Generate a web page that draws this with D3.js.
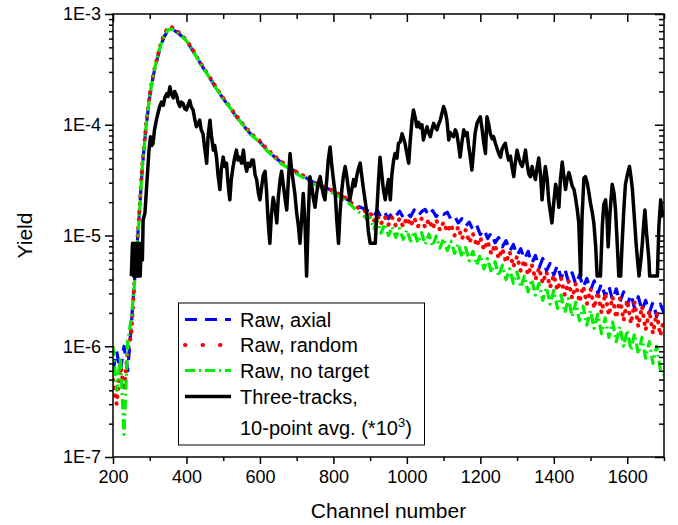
<!DOCTYPE html>
<html>
<head>
<meta charset="utf-8">
<script src="https://cdn.jsdelivr.net/npm/d3@7"></script>
<style>
  body { margin: 0; background: #fff; }
  svg { display: block; font-family: "Liberation Sans", Arial, sans-serif; }
</style>
</head>
<body>
<div id="chart"></div>
<script>
// channel grid of the raw spectra
var channels = [
  200,210,220,230,240,250,260,270,280,290,
  300,310,320,330,340,350,360,370,380,390,
  400,410,420,430,440,450,460,470,480,490,
  500,510,520,530,540,550,560,570,580,590,
  600,610,620,630,640,650,660,670,680,690,
  700,710,720,730,740,750,760,770,780,790,
  800,810,820,830,840,850,860,870,880,890,
  900,910,920,930,940,950,960,970,980,990,
  1000,1010,1020,1030,1040,1050,1060,1070,1080,1090,
  1100,1110,1120,1130,1140,1150,1160,1170,1180,1190,
  1200,1210,1220,1230,1240,1250,1260,1270,1280,1290,
  1300,1310,1320,1330,1340,1350,1360,1370,1380,1390,
  1400,1410,1420,1430,1440,1450,1460,1470,1480,1490,
  1500,1510,1520,1530,1540,1550,1560,1570,1580,1590,
  1600,1610,1620,1630,1640,1650,1660,1670,1680,1690,
  1700
];

var axial = [
  6e-7,9e-7,6e-7,1.0e-6,6e-7,1.6e-6,4.5e-6,1.3e-5,4.2e-5,9.5e-5,
  1.8e-4,2.8e-4,3.9e-4,5.2e-4,6.3e-4,7.1e-4,7.3e-4,7.0e-4,6.6e-4,6.2e-4,
  5.7e-4,5.1e-4,4.5e-4,3.95e-4,3.5e-4,3.1e-4,2.75e-4,2.45e-4,2.15e-4,1.92e-4,
  1.72e-4,1.55e-4,1.4e-4,1.26e-4,1.14e-4,1.03e-4,9.4e-5,8.6e-5,7.9e-5,7.4e-5,
  7.0e-5,6.4e-5,5.9e-5,5.5e-5,5.1e-5,4.8e-5,4.5e-5,4.3e-5,4.1e-5,3.9e-5,
  3.7e-5,3.55e-5,3.4e-5,3.25e-5,3.1e-5,2.98e-5,2.88e-5,2.78e-5,2.68e-5,2.6e-5,
  2.5e-5,2.4e-5,2.3e-5,2.2e-5,2.08e-5,1.98e-5,1.9e-5,1.82e-5,1.76e-5,1.7e-5,
  1.64e-5,1.5e-5,1.68e-5,1.45e-5,1.6e-5,1.42e-5,1.62e-5,1.5e-5,1.66e-5,1.46e-5,
  1.6e-5,1.48e-5,1.7e-5,1.5e-5,1.64e-5,1.72e-5,1.5e-5,1.68e-5,1.48e-5,1.66e-5,
  1.55e-5,1.62e-5,1.4e-5,1.5e-5,1.3e-5,1.42e-5,1.22e-5,1.32e-5,1.12e-5,1.24e-5,
  1.02e-5,1.14e-5,9.4e-6,1.06e-5,8.6e-6,9.6e-6,7.9e-6,9.0e-6,7.2e-6,8.3e-6,
  6.6e-6,7.6e-6,6.1e-6,7.2e-6,5.6e-6,6.6e-6,5.1e-6,6.2e-6,4.8e-6,5.6e-6,
  4.4e-6,5.4e-6,4.1e-6,5.0e-6,3.8e-6,4.6e-6,3.6e-6,4.4e-6,3.4e-6,4.1e-6,
  3.2e-6,3.9e-6,3.0e-6,3.7e-6,2.8e-6,3.5e-6,2.6e-6,3.3e-6,2.5e-6,3.1e-6,
  2.35e-6,2.95e-6,2.2e-6,2.8e-6,2.1e-6,2.6e-6,2.0e-6,2.5e-6,1.85e-6,2.4e-6,
  2.0e-6
];

var random = [
  5e-7,3e-7,7e-7,4e-7,9e-7,1.3e-6,4.8e-6,1.35e-5,4.5e-5,1.0e-4,
  1.9e-4,2.9e-4,4.0e-4,5.4e-4,6.6e-4,7.6e-4,7.6e-4,7.2e-4,6.8e-4,6.3e-4,
  5.8e-4,5.2e-4,4.6e-4,4.0e-4,3.55e-4,3.15e-4,2.8e-4,2.5e-4,2.2e-4,1.95e-4,
  1.75e-4,1.58e-4,1.42e-4,1.28e-4,1.16e-4,1.05e-4,9.6e-5,8.8e-5,8.1e-5,7.6e-5,
  7.1e-5,6.5e-5,6.0e-5,5.6e-5,5.2e-5,4.9e-5,4.6e-5,4.4e-5,4.15e-5,3.95e-5,
  3.75e-5,3.6e-5,3.45e-5,3.3e-5,3.15e-5,3.0e-5,2.9e-5,2.8e-5,2.7e-5,2.62e-5,
  2.52e-5,2.42e-5,2.32e-5,2.22e-5,2.1e-5,1.95e-5,1.85e-5,1.75e-5,1.72e-5,1.62e-5,
  1.62e-5,1.35e-5,1.52e-5,1.28e-5,1.48e-5,1.25e-5,1.45e-5,1.22e-5,1.42e-5,1.2e-5,
  1.45e-5,1.22e-5,1.44e-5,1.2e-5,1.42e-5,1.18e-5,1.4e-5,1.15e-5,1.38e-5,1.12e-5,
  1.32e-5,1.08e-5,1.26e-5,1.0e-5,1.2e-5,9.3e-6,1.12e-5,8.6e-6,1.04e-5,8.0e-6,
  9.6e-6,7.4e-6,8.9e-6,6.8e-6,8.3e-6,6.2e-6,7.6e-6,5.7e-6,7.1e-6,5.2e-6,
  6.5e-6,4.8e-6,6.0e-6,4.4e-6,5.5e-6,4.0e-6,5.1e-6,3.7e-6,4.7e-6,3.4e-6,
  4.4e-6,3.2e-6,4.1e-6,2.9e-6,3.9e-6,2.7e-6,3.7e-6,2.5e-6,3.5e-6,2.4e-6,
  3.3e-6,2.2e-6,3.1e-6,2.0e-6,3.0e-6,1.9e-6,2.8e-6,1.8e-6,2.7e-6,1.7e-6,
  2.6e-6,1.6e-6,2.5e-6,1.5e-6,2.3e-6,1.4e-6,2.1e-6,1.3e-6,2.0e-6,1.25e-6,
  1.8e-6
];

var noTarget = [
  1.0e-6,4e-7,8e-7,1.6e-7,1.1e-6,1.8e-6,4.2e-6,1.25e-5,4.3e-5,9.6e-5,
  1.85e-4,2.85e-4,3.95e-4,5.3e-4,6.4e-4,7.2e-4,7.3e-4,7.0e-4,6.6e-4,6.2e-4,
  5.7e-4,5.1e-4,4.5e-4,3.95e-4,3.5e-4,3.1e-4,2.75e-4,2.45e-4,2.15e-4,1.92e-4,
  1.72e-4,1.55e-4,1.4e-4,1.26e-4,1.14e-4,1.03e-4,9.4e-5,8.6e-5,7.9e-5,7.4e-5,
  6.9e-5,6.3e-5,5.8e-5,5.4e-5,5.0e-5,4.7e-5,4.4e-5,4.2e-5,4.0e-5,3.8e-5,
  3.6e-5,3.45e-5,3.3e-5,3.15e-5,3.0e-5,2.88e-5,2.78e-5,2.68e-5,2.58e-5,2.5e-5,
  2.4e-5,2.3e-5,2.2e-5,2.1e-5,1.98e-5,1.85e-5,1.72e-5,1.62e-5,1.55e-5,1.42e-5,
  1.45e-5,1.15e-5,1.35e-5,1.05e-5,1.28e-5,1.0e-5,1.2e-5,9.6e-6,1.16e-5,9.2e-6,
  1.12e-5,8.9e-6,1.09e-5,8.6e-6,1.06e-5,8.3e-6,1.03e-5,8.0e-6,9.9e-6,7.7e-6,
  9.4e-6,7.3e-6,8.9e-6,6.9e-6,8.4e-6,6.4e-6,7.8e-6,5.9e-6,7.2e-6,5.4e-6,
  6.7e-6,5.0e-6,6.2e-6,4.6e-6,5.8e-6,4.3e-6,5.4e-6,4.0e-6,5.0e-6,3.7e-6,
  4.7e-6,3.4e-6,4.3e-6,3.1e-6,4.0e-6,2.9e-6,3.7e-6,2.6e-6,3.4e-6,2.4e-6,
  3.2e-6,2.2e-6,2.9e-6,2.0e-6,2.7e-6,1.85e-6,2.5e-6,1.7e-6,2.3e-6,1.55e-6,
  2.1e-6,1.45e-6,1.95e-6,1.3e-6,1.8e-6,1.2e-6,1.65e-6,1.1e-6,1.5e-6,1.0e-6,
  1.4e-6,9.2e-7,1.3e-6,8.5e-7,1.2e-6,7.8e-7,1.1e-6,7.0e-7,1.0e-6,6.2e-7,
  5.5e-7
];

// three-track events, 10-point average (x1000): [channel, yield]
var threeTracks = [
  [250,4.3e-6],[253,8.5e-6],[256,4.3e-6],[259,8.5e-6],[262,4.3e-6],[265,8.5e-6],[268,4.3e-6],
  [271,8.5e-6],[274,4.3e-6],[277,8.5e-6],[280,6e-6],[282,1.38e-5],[287,1.6e-5],[291,2.6e-5],
  [298,5.9e-5],[302,7.8e-5],[306,6.5e-5],[309,6.8e-5],[313,9e-5],[318,1.1e-4],[322,1.25e-4],
  [327,1.46e-4],[332,1.6e-4],[337,1.5e-4],[341,1.75e-4],[346,1.9e-4],[350,1.8e-4],[355,2.2e-4],
  [359,1.9e-4],[364,1.75e-4],[368,2.0e-4],[373,1.85e-4],[377,1.6e-4],[382,1.46e-4],[386,1.6e-4],
  [391,1.55e-4],[395,1.4e-4],[400,1.36e-4],[404,1.5e-4],[409,1.65e-4],[413,1.45e-4],[418,1.36e-4],
  [422,1.15e-4],[427,9.6e-5],[431,1.0e-4],[436,1.1e-4],[440,9e-5],[445,8.3e-5],[450,6e-5],
  [455,4.5e-5],[459,8e-5],[464,1.1e-4],[468,8e-5],[473,5.9e-5],[477,6.5e-5],[482,5e-5],
  [486,3.5e-5],[491,2.6e-5],[495,4e-5],[500,5.1e-5],[504,4.2e-5],[509,4.5e-5],[513,3e-5],
  [518,2.1e-5],[522,3.2e-5],[527,4.2e-5],[531,5e-5],[536,5.9e-5],[540,4.8e-5],[545,5.1e-5],
  [550,4.5e-5],[555,5.9e-5],[559,4.5e-5],[564,3.8e-5],[568,4.5e-5],[573,4.2e-5],[578,4.8e-5],
  [582,4.8e-5],[587,3.5e-5],[591,3.2e-5],[596,2.4e-5],[600,2.1e-5],[605,2.8e-5],[609,3.5e-5],
  [614,3.8e-5],[618,2.5e-5],[622,1.4e-5],[627,8.5e-6],[631,1.5e-5],[636,2.2e-5],[641,1.8e-5],
  [646,1.3e-5],[650,2.2e-5],[655,3.2e-5],[659,3.8e-5],[664,2.8e-5],[668,2.2e-5],[673,1.7e-5],
  [677,3.0e-5],[682,5.5e-5],[686,4.0e-5],[691,3.0e-5],[695,2.4e-5],[700,1.6e-5],[705,1.2e-5],
  [709,8.5e-6],[714,1.5e-5],[718,2.4e-5],[723,1.2e-5],[727,4.3e-6],[732,1.6e-5],[736,3.4e-5],
  [741,2.8e-5],[745,2.2e-5],[750,1.8e-5],[755,2.5e-5],[759,3.0e-5],[764,3.4e-5],[768,2.8e-5],
  [773,2.3e-5],[777,2.1e-5],[782,3.2e-5],[786,4.8e-5],[791,6.3e-5],[795,4.5e-5],[800,3.2e-5],
  [805,2.4e-5],[809,1.4e-5],[814,8.5e-6],[818,1.6e-5],[823,2.6e-5],[827,3.4e-5],[832,4.2e-5],
  [836,3.5e-5],[841,2.6e-5],[845,2.1e-5],[850,2.6e-5],[855,3.2e-5],[859,2.8e-5],[864,3.5e-5],
  [868,4.0e-5],[873,4.5e-5],[877,3.5e-5],[882,2.6e-5],[886,2.1e-5],[891,1.6e-5],[895,1.1e-5],
  [900,8.5e-6],[905,8.5e-6],[909,8.5e-6],[914,8.5e-6],[918,1.6e-5],[923,3.2e-5],[927,5.1e-5],
  [932,3.5e-5],[936,2.6e-5],[941,2.1e-5],[945,2.6e-5],[950,3.2e-5],[955,2.1e-5],[959,3.5e-5],
  [964,4.8e-5],[968,5.5e-5],[973,5.0e-5],[977,6.8e-5],[982,7.0e-5],[987,8.3e-5],[991,7.5e-5],
  [995,6.8e-5],[1000,5.5e-5],[1005,4.5e-5],[1009,7e-5],[1014,1.1e-4],[1018,1.36e-4],[1023,1.15e-4],
  [1027,9.6e-5],[1032,1.05e-4],[1036,9.4e-5],[1041,1.0e-4],[1045,7.3e-5],[1050,8.5e-5],[1055,9.6e-5],
  [1059,8.5e-5],[1064,7.8e-5],[1068,9e-5],[1073,1.03e-4],[1077,9.5e-5],[1082,9e-5],[1086,1.0e-4],
  [1091,1.1e-4],[1095,1.25e-4],[1100,1.46e-4],[1105,1.3e-4],[1109,1.1e-4],[1114,7.3e-5],[1118,8.5e-5],
  [1123,8e-5],[1127,7.8e-5],[1132,9e-5],[1136,8.3e-5],[1141,6.5e-5],[1145,5.1e-5],[1150,7e-5],
  [1155,9e-5],[1159,8e-5],[1164,8.5e-5],[1168,6.5e-5],[1173,5e-5],[1177,3.9e-5],[1182,6e-5],
  [1186,8.5e-5],[1191,1.03e-4],[1195,1.1e-4],[1200,1.18e-4],[1205,9e-5],[1209,7e-5],[1214,5.5e-5],
  [1218,1.18e-4],[1223,1.0e-4],[1227,8.3e-5],[1232,7.5e-5],[1236,7.8e-5],[1241,6.8e-5],[1245,6.2e-5],
  [1250,5.5e-5],[1255,5.1e-5],[1259,6.0e-5],[1264,6.5e-5],[1268,6.8e-5],[1273,5.5e-5],[1277,4.8e-5],
  [1282,5.2e-5],[1286,4.2e-5],[1291,3.4e-5],[1295,4.5e-5],[1300,5.9e-5],[1305,5.0e-5],[1309,4.5e-5],
  [1314,4.2e-5],[1318,4.8e-5],[1323,5.9e-5],[1327,4.5e-5],[1332,3.6e-5],[1336,3.4e-5],[1341,4.2e-5],
  [1345,3.6e-5],[1350,3.2e-5],[1355,4.2e-5],[1359,5.0e-5],[1364,3.5e-5],[1368,2.1e-5],[1373,3.2e-5],
  [1377,4.2e-5],[1382,3.2e-5],[1386,2.1e-5],[1391,1.6e-5],[1395,1.3e-5],[1400,2.0e-5],[1405,2.9e-5],
  [1409,2.5e-5],[1414,1.8e-5],[1418,3.2e-5],[1423,4.6e-5],[1427,3.5e-5],[1432,2.6e-5],[1436,3.2e-5],
  [1441,3.7e-5],[1445,3.3e-5],[1450,2.8e-5],[1455,2.6e-5],[1459,2.2e-5],[1464,1.7e-5],[1468,1.3e-5],
  [1473,4.3e-6],[1477,1.5e-5],[1482,3.3e-5],[1486,3.4e-5],[1491,3.0e-5],[1495,2.5e-5],[1500,1.95e-5],
  [1505,1.6e-5],[1509,1.3e-5],[1514,8e-6],[1518,4.3e-6],[1523,4.3e-6],[1527,4.3e-6],[1532,1.2e-5],
  [1536,1.9e-5],[1541,2.1e-5],[1545,1.4e-5],[1548,7.9e-6],[1553,1.6e-5],[1559,2.9e-5],[1564,2.4e-5],
  [1568,1.7e-5],[1573,8e-6],[1577,4.3e-6],[1582,4.3e-6],[1586,8.5e-6],[1591,1.8e-5],[1595,2.9e-5],
  [1600,3.5e-5],[1606,4.2e-5],[1610,3.4e-5],[1614,2.6e-5],[1619,1.5e-5],[1624,8.5e-6],[1628,6e-6],
  [1632,4.3e-6],[1637,6e-6],[1641,8.5e-6],[1645,1.3e-5],[1648,1.7e-5],[1652,1.1e-5],[1655,8.5e-6],
  [1659,6e-6],[1661,4.3e-6],[1670,4.3e-6],[1682,4.3e-6],[1686,1.2e-5],[1691,2.1e-5],[1695,1.5e-5],
  [1700,1.7e-5]
];

var xTicks = [200, 400, 600, 800, 1000, 1200, 1400, 1600];
var xMinorTicks = [300, 500, 700, 900, 1100, 1300, 1500, 1700];
var yTicks = [1e-7, 1e-6, 1e-5, 1e-4, 1e-3];
var yTickLabels = ["1E-7", "1E-6", "1E-5", "1E-4", "1E-3"];
var seriesNames = ["Raw, axial", "Raw, random", "Raw, no target", "Three-tracks,"];

var width = 678, height = 525;
var plotLeft = 113, plotRight = 664, plotTop = 14, plotBottom = 457;

var svg = d3.select("#chart").append("svg")
  .attr("width", width)
  .attr("height", height);

var x = d3.scaleLinear().domain([200, 1700]).range([plotLeft, plotRight]);
var y = d3.scaleLog().domain([1e-7, 1e-3]).range([plotBottom, plotTop]);

// minor log ticks 2..9 in each decade
var yMinorTicks = [];
yTicks.slice(0, -1).forEach(function(d) {
  for (var k = 2; k <= 9; k++) yMinorTicks.push(d * k);
});

svg.append("clipPath").attr("id", "plot-clip")
  .append("rect")
    .attr("x", plotLeft).attr("y", plotTop)
    .attr("width", plotRight - plotLeft).attr("height", plotBottom - plotTop);

var plot = svg.append("g").attr("clip-path", "url(#plot-clip)");

var line = d3.line()
  .x(function(d) { return x(d[0]); })
  .y(function(d) { return y(d[1]); });

var styles = [
  { color: "#0000ff", dash: "12,8", cap: "butt", width: 3.2 },
  { color: "#ff0000", dash: "0.5,7.5", cap: "round", width: 4 },
  { color: "#00ee00", dash: "10,4,2,4", cap: "butt", width: 3.2 },
  { color: "#000000", dash: null, cap: "butt", width: 3.5 }
];

var rawSeries = [axial, random, noTarget].map(function(vals) {
  return channels.map(function(c, i) { return [c, vals[i]]; });
});

rawSeries.forEach(function(data, i) {
  plot.append("path")
    .attr("d", line(data))
    .attr("fill", "none")
    .attr("stroke", styles[i].color)
    .attr("stroke-width", styles[i].width)
    .attr("stroke-dasharray", styles[i].dash)
    .attr("stroke-linecap", styles[i].cap)
    .attr("stroke-linejoin", "round");
});

plot.append("path")
  .attr("d", line(threeTracks))
  .attr("fill", "none")
  .attr("stroke", "#000")
  .attr("stroke-width", 3.5)
  .attr("stroke-linejoin", "round");

// axes
var tickFont = 18;

function styleAxis(g) {
  g.select(".domain").remove();
  g.selectAll(".tick line").attr("stroke", "#000").attr("stroke-width", 1.5);
  g.selectAll(".tick text").attr("fill", "#000")
    .style("font-size", tickFont + "px")
    .style("font-family", '"Liberation Sans", Arial, sans-serif');
}

svg.append("g").attr("transform", "translate(0," + plotBottom + ")")
  .call(d3.axisBottom(x).tickValues(xTicks).tickSize(7).tickPadding(6).tickFormat(d3.format("d")))
  .call(styleAxis);
svg.append("g").attr("transform", "translate(0," + plotBottom + ")")
  .call(d3.axisBottom(x).tickValues(xMinorTicks).tickSize(4).tickFormat(""))
  .call(styleAxis);

svg.append("g").attr("transform", "translate(0," + plotTop + ")")
  .call(d3.axisBottom(x).tickValues(xTicks).tickSize(8).tickFormat(""))
  .call(styleAxis);
svg.append("g").attr("transform", "translate(0," + plotTop + ")")
  .call(d3.axisBottom(x).tickValues(xMinorTicks).tickSize(5).tickFormat(""))
  .call(styleAxis);

svg.append("g").attr("transform", "translate(" + plotLeft + ",0)")
  .call(d3.axisLeft(y).tickValues(yTicks).tickSize(8).tickPadding(4)
    .tickFormat(function(d, i) { return yTickLabels[i]; }))
  .call(styleAxis);
svg.append("g").attr("transform", "translate(" + plotLeft + ",0)")
  .call(d3.axisLeft(y).tickValues(yMinorTicks).tickSize(4).tickFormat(""))
  .call(styleAxis);

svg.append("g").attr("transform", "translate(" + plotRight + ",0)")
  .call(d3.axisLeft(y).tickValues(yTicks).tickSize(9).tickFormat(""))
  .call(styleAxis);
svg.append("g").attr("transform", "translate(" + plotRight + ",0)")
  .call(d3.axisLeft(y).tickValues(yMinorTicks).tickSize(5).tickFormat(""))
  .call(styleAxis);

svg.append("rect")
  .attr("x", plotLeft).attr("y", plotTop)
  .attr("width", plotRight - plotLeft).attr("height", plotBottom - plotTop)
  .attr("fill", "none")
  .attr("stroke", "#000")
  .attr("stroke-width", 1.5);

// axis titles
svg.append("text")
  .attr("x", (plotLeft + plotRight) / 2).attr("y", 518)
  .attr("text-anchor", "middle")
  .style("font-size", "21px")
  .text("Channel number");

svg.append("text")
  .attr("transform", "translate(32," + (plotTop + plotBottom) / 2 + ") rotate(-90)")
  .attr("text-anchor", "middle")
  .style("font-size", "21px")
  .text("Yield");

// legend
var legendFont = 20;
var legend = svg.append("g");
legend.append("rect")
  .attr("x", 178.5).attr("y", 303)
  .attr("width", 246).attr("height", 142)
  .attr("fill", "#fff")
  .attr("stroke", "#000")
  .attr("stroke-width", 1);

var rowY = [319.5, 345, 370.5, 396.5];
seriesNames.forEach(function(name, i) {
  legend.append("path")
    .attr("d", d3.line()([[185, rowY[i]], [231, rowY[i]]]))
    .attr("stroke", styles[i].color)
    .attr("stroke-width", styles[i].width)
    .attr("stroke-dasharray", i === 1 ? "0.5,17" : styles[i].dash)
    .attr("stroke-linecap", styles[i].cap)
    .attr("fill", "none");
  legend.append("text")
    .attr("x", 240).attr("y", rowY[i] + 7)
    .style("font-size", legendFont + "px")
    .text(name);
});

var note = legend.append("text")
  .attr("x", 240).attr("y", 435)
  .style("font-size", legendFont + "px");
note.append("tspan").text("10-point avg. (*10");
note.append("tspan").attr("dy", -8).style("font-size", "13px").text("3");
note.append("tspan").attr("dy", 8).text(")");
</script>
</body>
</html>
